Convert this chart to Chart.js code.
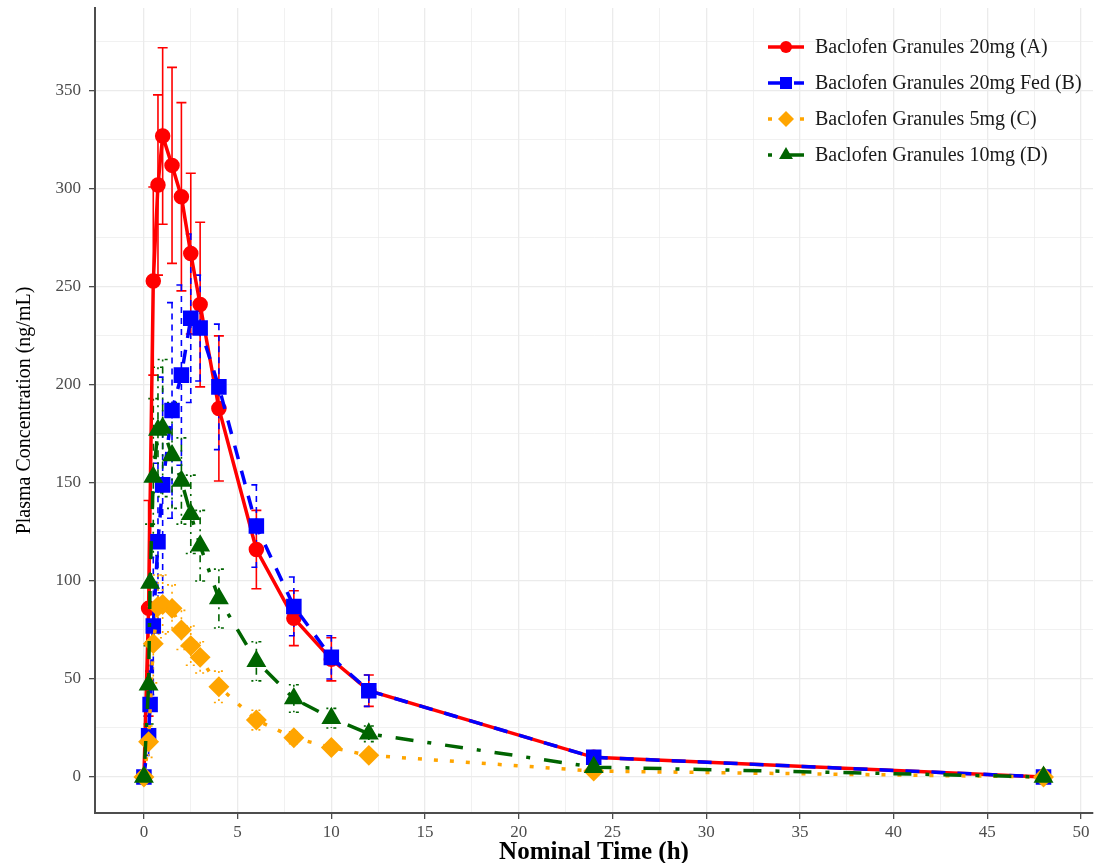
<!DOCTYPE html>
<html>
<head>
<meta charset="utf-8">
<script src="https://cdn.jsdelivr.net/npm/chart.js@4.4.0/dist/chart.umd.min.js"></script>
<style>
  html, body { margin: 0; padding: 0; background: #fff; }
</style>
</head>
<body>
<canvas id="pk-chart" width="1095" height="863"></canvas>
<script>
// nominal sampling times (h)
const times = [0, 0.25, 0.33, 0.5, 0.75, 1, 1.5, 2, 2.5, 3, 4, 6, 8, 10, 12, 24, 48];

// mean and SD of plasma concentration (ng/mL)
const meanA = [0, 86, null, 253, 302, 327, 312, 296, 267, 241, 188, 116, 81, 60, 44, 10, 0];
const sdA   = [0, 55, null, 48, 46, 45, 50, 48, 41, 42, 37, 20, 14, 11, 8, 3, 0];
const meanB = [0, 21, 37, 77, 120, 149, 187, 205, 234, 229, 199, 128, 87, 61, 44, 10, 0];
const sdB   = [0, 10, 17, 35, 40, 55, 55, 46, 43, 27, 32, 21, 15, 11, 8, 3, 0];
const meanC = [0, 18, null, 68, 87, 88, 86, 75, 67, 61, 46, 29, 20, 15, 11, 3, 0];
const sdC   = [0, 8, null, 20, 16, 15, 12, 10, 10, 8, 8, 5, 3, 2, 2, 1, 0];
const meanD = [0, 47, 99, 153, 177, 178, 164, 151, 134, 118, 91, 59, 40, 30, 22, 5, 0];
const sdD   = [0, 20, 30, 40, 32, 35, 27, 22, 20, 18, 15, 10, 7, 5, 4, 1, 0];

const seriesLabels = [
  'Baclofen Granules 20mg (A)',
  'Baclofen Granules 20mg Fed (B)',
  'Baclofen Granules 5mg (C)',
  'Baclofen Granules 10mg (D)'
];

const xTicks = [0, 2.5, 5, 7.5, 10, 12.5, 15, 17.5, 20, 22.5, 25, 27.5, 30, 32.5, 35, 37.5, 40, 42.5, 45, 47.5, 50];
const yTicks = [0, 25, 50, 75, 100, 125, 150, 175, 200, 225, 250, 275, 300, 325, 350, 375];

const serif = '"Liberation Serif", "Times New Roman", serif';

function toPoints(means) {
  return times.map((t, i) => ({x: t, y: means[i]}));
}

// draws mean +/- SD bars with the library's scales
const errorBars = {
  id: 'errorBars',
  beforeDatasetsDraw(chart) {
    const ctx = chart.ctx;
    const xs = chart.scales.x;
    const ys = chart.scales.y;
    chart.data.datasets.forEach((ds, i) => {
      ctx.save();
      ctx.strokeStyle = ds.borderColor;
      ctx.lineWidth = 1.6;
      ctx.setLineDash(ds.barDash);
      ds.data.forEach((pt, j) => {
        const sd = ds.sd[j];
        if (pt.y == null || !sd) return;
        const px = xs.getPixelForValue(pt.x);
        const top = ys.getPixelForValue(pt.y + sd);
        const bot = ys.getPixelForValue(pt.y - sd);
        ctx.beginPath();
        ctx.moveTo(px, top); ctx.lineTo(px, bot);
        ctx.moveTo(px - 5, top); ctx.lineTo(px + 5, top);
        ctx.moveTo(px - 5, bot); ctx.lineTo(px + 5, bot);
        ctx.stroke();
      });
      ctx.restore();
    });
  }
};

// legend in the top right corner, line + marker + text
const lineLegend = {
  id: 'lineLegend',
  afterDraw(chart) {
    const ctx = chart.ctx;
    chart.data.datasets.forEach((ds, i) => {
      const y = 47 + i * 36;
      ctx.save();
      ctx.strokeStyle = ds.borderColor;
      ctx.lineWidth = ds.borderWidth;
      ctx.setLineDash(ds.borderDash || []);
      ctx.beginPath();
      ctx.moveTo(768, y);
      ctx.lineTo(804, y);
      ctx.stroke();
      ctx.setLineDash([]);
      ctx.fillStyle = ds.borderColor;
      Chart.helpers.drawPoint(ctx, {pointStyle: ds.pointStyle, radius: ds.pointRadius, rotation: 0, borderWidth: 0}, 786, y);
      ctx.fillStyle = '#1a1a1a';
      ctx.font = '20px ' + serif;
      ctx.textBaseline = 'middle';
      ctx.textAlign = 'left';
      ctx.fillText(ds.label, 815, y + 1);
      ctx.restore();
    });
  }
};

const ctx = document.getElementById('pk-chart').getContext('2d');

new Chart(ctx, {
  type: 'line',
  data: {
    datasets: [{
      label: seriesLabels[0],
      data: toPoints(meanA),
      sd: sdA,
      borderColor: '#ff0000',
      backgroundColor: '#ff0000',
      borderWidth: 3.5,
      pointStyle: 'circle',
      pointRadius: 6,
      barDash: [],
      order: 4
    }, {
      label: seriesLabels[1],
      data: toPoints(meanB),
      sd: sdB,
      borderColor: '#0000ff',
      backgroundColor: '#0000ff',
      borderWidth: 3.5,
      borderDash: [14, 12],
      pointStyle: 'rect',
      pointRadius: 8.5,
      barDash: [6, 5],
      order: 3
    }, {
      label: seriesLabels[2],
      data: toPoints(meanC),
      sd: sdC,
      borderColor: '#ffa500',
      backgroundColor: '#ffa500',
      borderWidth: 3.5,
      borderDash: [4, 12],
      pointStyle: 'rectRot',
      pointRadius: 8,
      barDash: [2, 5],
      order: 2
    }, {
      label: seriesLabels[3],
      data: toPoints(meanD),
      sd: sdD,
      borderColor: '#006400',
      backgroundColor: '#006400',
      borderWidth: 3.5,
      borderDash: [4, 14, 18, 14],
      pointStyle: 'triangle',
      pointRadius: 8,
      barDash: [2, 5, 7, 5],
      order: 1
    }]
  },
  options: {
    responsive: false,
    animation: false,
    spanGaps: true,
    layout: { autoPadding: false, padding: { top: 8, right: 2, left: 0, bottom: 0 } },
    elements: {
      line: { tension: 0, fill: false },
      point: { borderWidth: 0 }
    },
    plugins: {
      legend: { display: false },
      tooltip: { enabled: false }
    },
    scales: {
      x: {
        type: 'linear',
        min: -2.61,
        max: 50.64,
        afterBuildTicks: s => { s.ticks = xTicks.map(v => ({value: v})); },
        afterFit: s => { s.height = 50; s.paddingLeft = 0; s.paddingRight = 0; },
        grid: {
          color: '#ebebeb',
          lineWidth: c => (c.tick && c.tick.value % 5 === 0) ? 1.3 : 0.7,
          tickColor: c => (c.tick && c.tick.value % 5 === 0) ? '#4d4d4d' : 'rgba(0,0,0,0)',
          tickLength: 6
        },
        border: { color: '#4d4d4d', width: 2 },
        ticks: {
          autoSkip: false,
          maxRotation: 0,
          padding: 3,
          color: '#4d4d4d',
          font: { family: serif, size: 17 },
          callback: v => v % 5 === 0 ? String(v) : ''
        },
        title: {
          display: true,
          text: 'Nominal Time (h)',
          color: '#000',
          font: { family: serif, size: 25, weight: 'bold', lineHeight: 0.85 },
          padding: { top: 0, bottom: 0 }
        }
      },
      y: {
        type: 'linear',
        min: -18.4,
        max: 392.3,
        afterBuildTicks: s => { s.ticks = yTicks.map(v => ({value: v})); },
        afterFit: s => { s.width = 95; s.paddingTop = 0; s.paddingBottom = 0; },
        grid: {
          color: '#ebebeb',
          lineWidth: c => (c.tick && c.tick.value % 50 === 0) ? 1.3 : 0.7,
          tickColor: c => (c.tick && c.tick.value % 50 === 0) ? '#4d4d4d' : 'rgba(0,0,0,0)',
          tickLength: 6
        },
        border: { color: '#4d4d4d', width: 2 },
        ticks: {
          autoSkip: false,
          padding: 8,
          color: '#4d4d4d',
          font: { family: serif, size: 17 },
          callback: v => v % 50 === 0 ? String(v) : ''
        },
        title: {
          display: true,
          text: 'Plasma Concentration (ng/mL)',
          color: '#000',
          font: { family: serif, size: 20 },
          padding: { top: 13, bottom: 0 }
        }
      }
    }
  },
  plugins: [errorBars, lineLegend]
});
</script>
</body>
</html>
